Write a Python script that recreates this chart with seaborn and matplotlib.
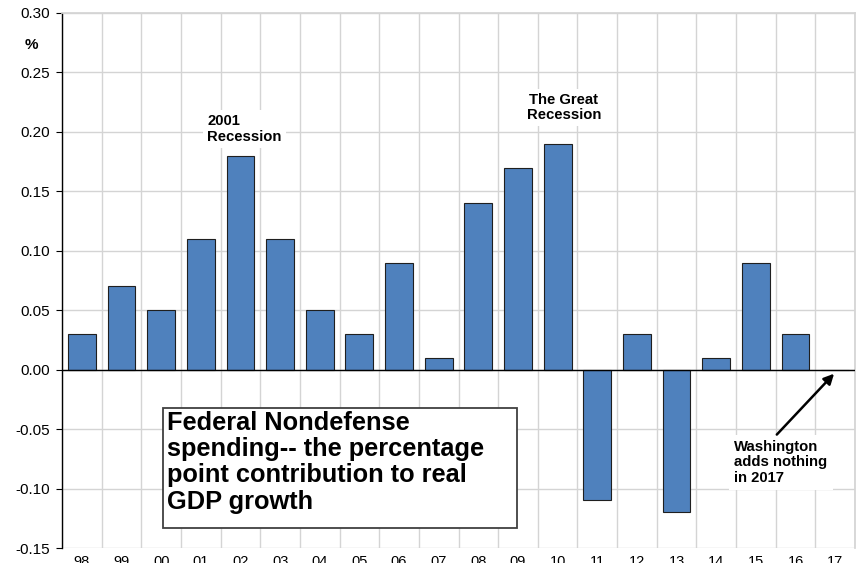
import matplotlib
matplotlib.use("Agg")
import matplotlib.pyplot as plt
from matplotlib.patches import Rectangle
import seaborn as sns
import pandas as pd
import numpy as np

years = ["98", "99", "00", "01", "02", "03", "04", "05", "06", "07",
         "08", "09", "10", "11", "12", "13", "14", "15", "16", "17"]
values = [0.03, 0.07, 0.05, 0.11, 0.18, 0.11, 0.05, 0.03, 0.09, 0.01,
          0.14, 0.17, 0.19, -0.11, 0.03, -0.12, 0.01, 0.09, 0.03, 0.0]
yticks = [-0.15, -0.10, -0.05, 0.00, 0.05, 0.10, 0.15, 0.20, 0.25, 0.30]

sns.set_theme(style="white")
plt.rcParams["font.family"] = ["Liberation Sans", "DejaVu Sans"]
plt.rcParams["text.color"] = "black"
plt.rcParams["xtick.color"] = "black"
plt.rcParams["ytick.color"] = "black"
plt.rcParams["xtick.labelcolor"] = "black"
plt.rcParams["ytick.labelcolor"] = "black"

df = pd.DataFrame({"year": years, "value": values})

fig = plt.figure(figsize=(8.6, 5.63), dpi=100)
ax = fig.add_axes([62/860, 1 - 548/563, (855 - 62)/860, (548 - 13)/563])

sns.barplot(data=df, x="year", y="value", order=years, color="#4F81BD",
            saturation=1, width=0.7, edgecolor="#1f1f1f", linewidth=0.8,
            ax=ax, zorder=3)

ax.set_ylim(-0.15, 0.30)
ax.set_xlim(-0.5, len(years) - 0.5)
ax.set_yticks(yticks)
ax.set_yticklabels([f"{v:.2f}" for v in yticks], fontsize=11)
ax.set_xticks(range(len(years)))
ax.set_xticklabels(years, fontsize=10.5)
ax.set_xticks(np.arange(-0.5, len(years), 1.0), minor=True)
ax.tick_params(axis="x", which="both", length=0, pad=5)
ax.tick_params(axis="y", which="major", length=4, width=0.8, color="black", left=True, pad=4.5)
ax.set_xlabel("")
ax.set_ylabel("")

ax.grid(False)
ax.yaxis.grid(True, color="#d4d4d4", linewidth=1.0, zorder=0)
ax.xaxis.grid(True, which="minor", color="#d4d4d4", linewidth=1.0, zorder=0)
ax.set_axisbelow(True)

for s in ["top", "right"]:
    ax.spines[s].set_visible(True)
    ax.spines[s].set_color("#d4d4d4")
ax.spines["bottom"].set_visible(False)
ax.spines["left"].set_color("black")
ax.spines["left"].set_linewidth(1.0)
ax.axhline(0, color="black", linewidth=1.0, zorder=4)

fig.text(31/860, 1 - 45/563, "%", fontsize=11, fontweight="bold", ha="center", va="center")

ax.text(3.157, 0.2025, "2001\nRecession", fontsize=10.7, fontweight="bold",
        ha="left", va="center", linespacing=1.12,
        bbox=dict(facecolor="white", edgecolor="none", pad=3), zorder=5)
ax.text(12.16, 0.2205, "The Great\nRecession", fontsize=10.7, fontweight="bold",
        ha="center", va="center", linespacing=1.12,
        bbox=dict(facecolor="white", edgecolor="none", pad=3), zorder=5)

# title box
ax.add_patch(Rectangle((2.047, -0.1329), 10.975 - 2.047, 0.1329 - 0.0319,
                       facecolor="white", edgecolor="#404040", linewidth=1.3, zorder=6))
ax.text(2.15, -0.0345, "Federal Nondefense\nspending-- the percentage\npoint contribution to real\nGDP growth",
        fontsize=18.3, fontweight="bold", ha="left", va="top", linespacing=1.12, zorder=7)

ax.annotate("", xy=(19.02, -0.0017), xytext=(17.48, -0.0563),
            arrowprops=dict(arrowstyle="-|>", color="black", lw=1.8, mutation_scale=15), zorder=6)
ax.text(16.45, -0.078, "Washington\nadds nothing\nin 2017", fontsize=10.7, fontweight="bold",
        ha="left", va="center", linespacing=1.1,
        bbox=dict(facecolor="white", edgecolor="none", pad=4), zorder=5)

fig.savefig("out.png", dpi=100)
